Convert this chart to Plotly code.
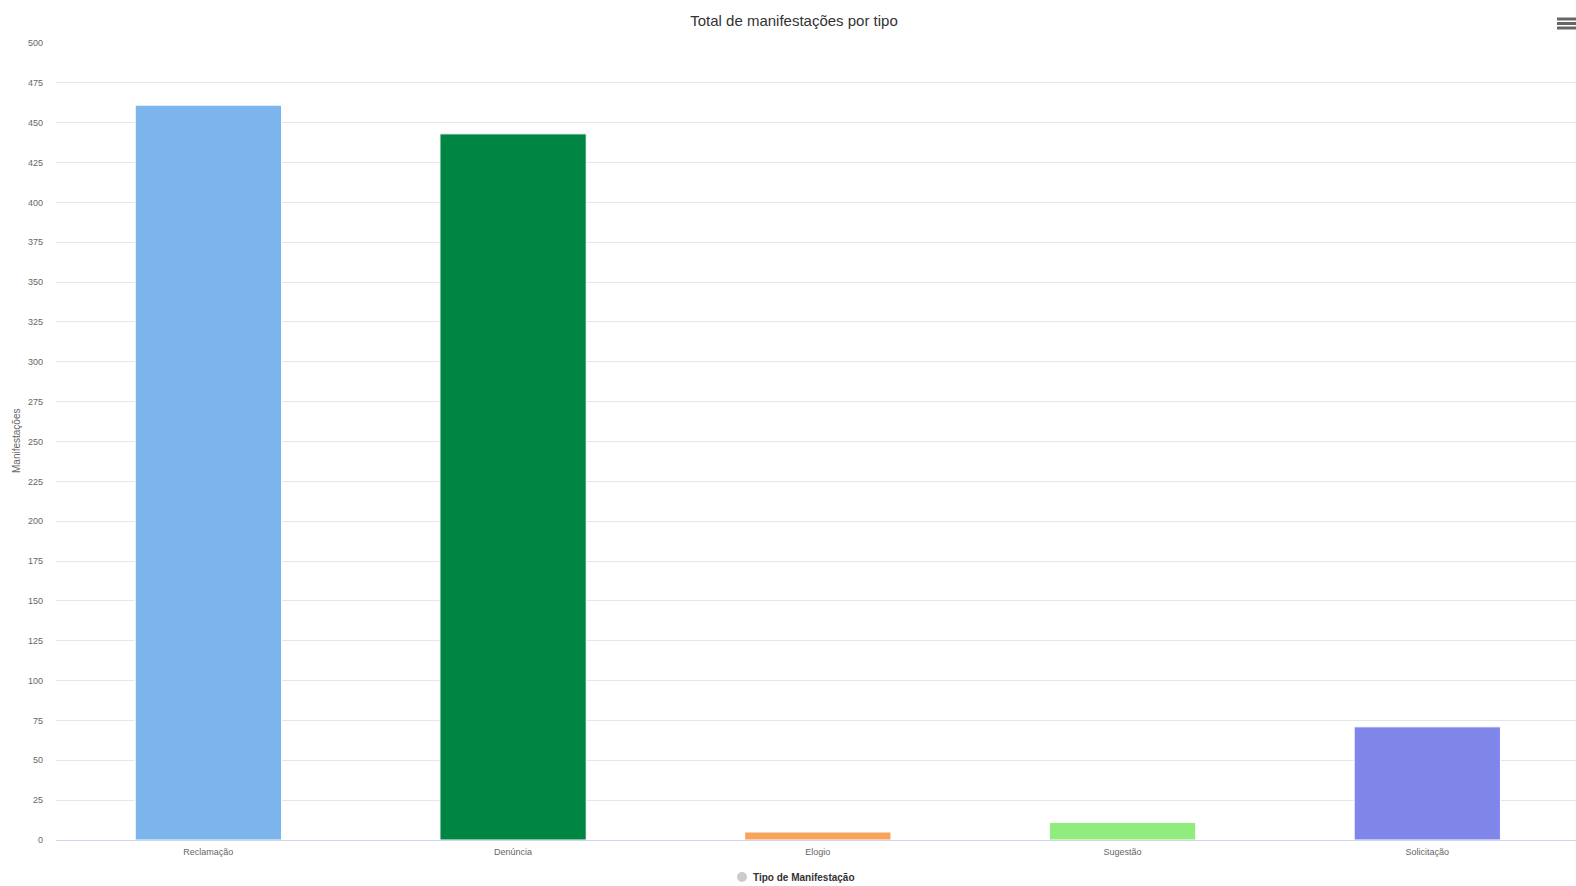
import plotly.graph_objects as go

# Totals per complaint type
categorias = ["Reclamação", "Denúncia", "Elogio", "Sugestão", "Solicitação"]
totais = [461, 443, 5, 11, 71]
cores = ["#7cb5ec", "#008542", "#f7a35c", "#90ed7d", "#8085e9"]
y_ticks = list(range(0, 501, 25))

W, H = 1576, 886
L, R, T, B = 56, 0, 43, 46
plot_w = W - L - R
plot_h = H - T - B


def px_x(x):
    return (x - L) / plot_w


def px_y(y):
    return (H - B - y) / plot_h


FONT = "Liberation Sans, Arial, sans-serif"

fig = go.Figure(
    go.Bar(
        x=categorias,
        y=totais,
        marker=dict(color=cores, line=dict(color="#ffffff", width=1)),
        width=0.48,
        showlegend=False,
        hoverinfo="x+y",
    )
)

fig.update_layout(
    width=W,
    height=H,
    margin=dict(l=L, r=R, t=T, b=B),
    paper_bgcolor="#ffffff",
    plot_bgcolor="#ffffff",
    font=dict(family=FONT, color="#666666", size=9),
    title=dict(
        text="Total de manifestações por tipo",
        x=794 / W,
        xanchor="center",
        y=1 - 20.5 / H,
        yanchor="middle",
        font=dict(size=15, color="#333333", family=FONT),
    ),
)

# The last category column runs slightly past the right edge of the page
fig.update_xaxes(
    range=[-0.5, 4.488],
    showgrid=False,
    showline=True,
    linecolor="#ccd6eb",
    linewidth=1,
    ticks="",
    ticklabelstandoff=3,
    tickfont=dict(size=9, color="#666666"),
    fixedrange=True,
)
fig.update_yaxes(
    range=[0, 500],
    tickvals=y_ticks,
    showgrid=True,
    gridcolor="#e6e6e6",
    gridwidth=1,
    zeroline=False,
    showline=False,
    ticks="",
    ticklabelstandoff=12,
    tickfont=dict(size=9, color="#666666"),
    fixedrange=True,
)

# Rotated y-axis title
fig.add_annotation(
    text="Manifestações",
    xref="paper",
    yref="paper",
    x=px_x(16),
    y=px_y(441),
    xanchor="center",
    yanchor="middle",
    textangle=-90,
    showarrow=False,
    font=dict(size=10, color="#666666", family=FONT),
)

# Legend entry: grey marker plus bold series name
fig.add_shape(
    type="circle",
    xref="paper",
    yref="paper",
    x0=px_x(737),
    x1=px_x(747),
    y0=px_y(882),
    y1=px_y(872),
    fillcolor="#cccccc",
    line=dict(width=0),
)
fig.add_annotation(
    text="<b>Tipo de Manifestação</b>",
    xref="paper",
    yref="paper",
    x=px_x(751),
    y=px_y(877),
    xanchor="left",
    yanchor="middle",
    showarrow=False,
    font=dict(size=10, color="#333333", family=FONT),
)

# Export menu icon (three bars)
for yy in (19, 23.5, 28):
    fig.add_shape(
        type="rect",
        xref="paper",
        yref="paper",
        x0=px_x(1557),
        x1=px_x(1576),
        y0=px_y(yy + 1.5),
        y1=px_y(yy - 1.5),
        fillcolor="#666666",
        line=dict(width=0),
    )

fig.write_html("out.html", config={"displayModeBar": False})
